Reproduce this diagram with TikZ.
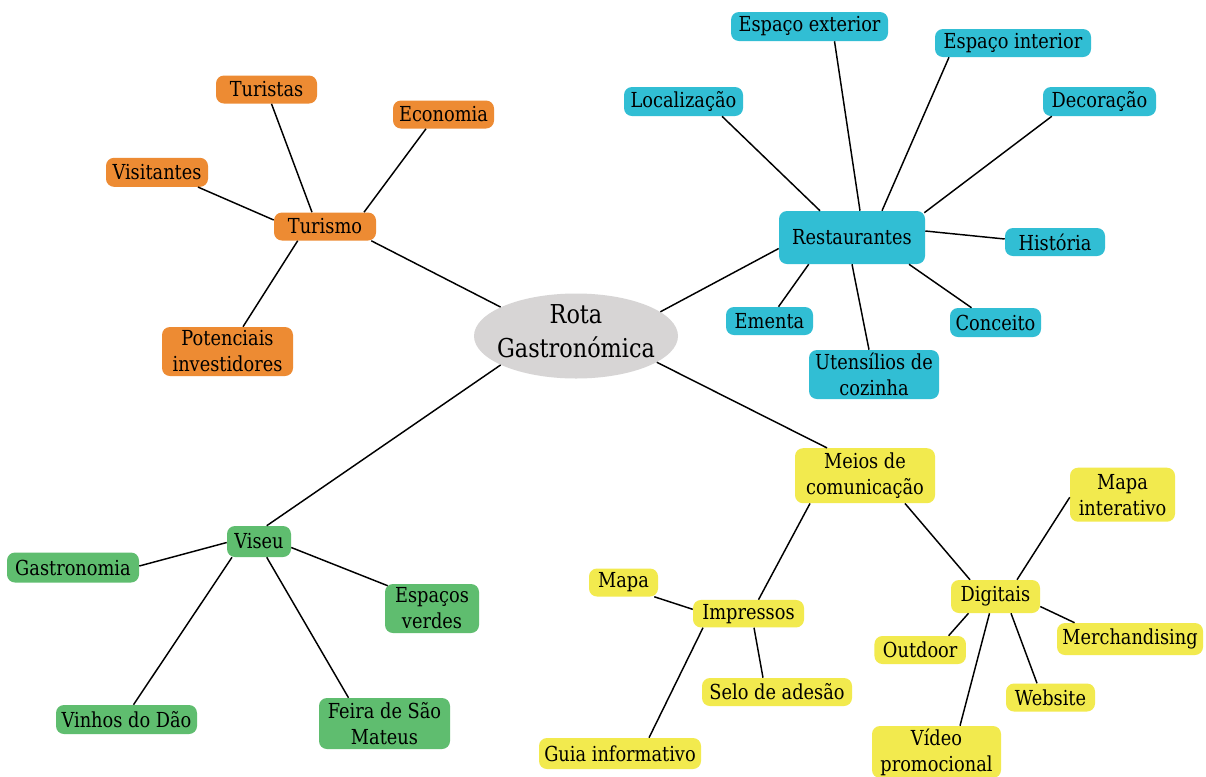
\documentclass[tikz,border=0pt]{standalone}
\usepackage{fontspec}
\setmainfont{DejaVu Serif}[FakeStretch=0.86]
\usetikzlibrary{calc,shapes.geometric}
\definecolor{corange}{RGB}{237,139,51}
\definecolor{cteal}{RGB}{49,190,212}
\definecolor{cyellow}{RGB}{242,234,78}
\definecolor{cgreen}{RGB}{95,189,111}
\definecolor{cgrey}{RGB}{215,213,213}
\tikzset{
  bx/.style={rectangle, rounded corners=6pt, inner sep=0pt, align=center,
    font=\fontsize{15.5pt}{19.5pt}\selectfont},
  orangebox/.style={bx, fill=corange},
  tealbox/.style={bx, fill=cteal},
  yellowbox/.style={bx, fill=cyellow},
  greenbox/.style={bx, fill=cgreen},
  link/.style={draw=black, line width=1.1pt},
  sz/.style 2 args={minimum width=#1*0.75pt, minimum height=#2*0.75pt},
}
\begin{document}
\begin{tikzpicture}[x=0.75pt,y=-0.75pt]
\useasboundingbox (0,0) rectangle (1206,776);
\clip (0,0) rectangle (1206,776);
\fill[white] (0,0) rectangle (1206,776);
% centre
\node[ellipse, fill=cgrey, inner sep=0pt, sz={204}{85}] (c) at (576,336) {};
\node[align=center, inner sep=0pt, font=\fontsize{19.5pt}{25.5pt}\selectfont] (ct) at (576,331) {Rota\\Gastronómica};
% Turismo
\node[orangebox, sz={101}{28}] (tur) at (266.5,89.5) {Turistas};
\node[orangebox, sz={101}{28}] (eco) at (443.5,114.5) {Economia};
\node[orangebox, sz={102}{29}] (vis) at (157,172.3) {Visitantes};
\node[orangebox, sz={102}{28}] (tsm) at (325,226.5) {Turismo};
\node[orangebox, sz={131}{49}] (pot) at (227.5,351.5) {Potenciais\\investidores};
% Restaurantes
\node[tealbox, sz={157}{29}] (ext) at (809.5,26.5) {Espaço exterior};
\node[tealbox, sz={156}{28}] (int) at (1013,43) {Espaço interior};
\node[tealbox, sz={119}{29}] (loc) at (683.5,101.5) {Localização};
\node[tealbox, sz={113}{29}] (dec) at (1099.5,101.5) {Decoração};
\node[tealbox, sz={146}{53}] (rest) at (852,237.5) {Restaurantes};
\node[tealbox, sz={100}{28}] (his) at (1055,242) {História};
\node[tealbox, sz={87}{28}] (eme) at (769.5,321) {Ementa};
\node[tealbox, sz={91}{29}] (con) at (995.5,322.5) {Conceito};
\node[tealbox, sz={130}{49}] (ute) at (874,374.5) {Utensílios de\\cozinha};
% Viseu
\node[greenbox, sz={64}{31}] (vse) at (259,541.5) {Viseu};
\node[greenbox, sz={132}{30}] (gas) at (73,567.5) {Gastronomia};
\node[greenbox, sz={94}{49}] (esv) at (432,608.5) {Espaços\\verdes};
\node[greenbox, sz={141}{29}] (vin) at (126.5,719.5) {Vinhos do Dão};
\node[greenbox, sz={131}{51}] (fei) at (384.5,723.5) {Feira de São\\Mateus};
% Meios de comunicacao
\node[yellowbox, sz={140}{55}] (mei) at (865,475.7) {Meios de\\comunicação};
\node[yellowbox, sz={105}{54}] (mpi) at (1122.5,494.7) {Mapa\\interativo};
\node[yellowbox, sz={69}{28}] (map) at (623.5,582.5) {Mapa};
\node[yellowbox, sz={111}{27.5}] (imp) at (748.5,613.7) {Impressos};
\node[yellowbox, sz={89}{33}] (dig) at (995.5,596.5) {Digitais};
\node[yellowbox, sz={91.5}{28}] (out) at (920.2,650) {Outdoor};
\node[yellowbox, sz={146}{32}] (mer) at (1130,639) {Merchandising};
\node[yellowbox, sz={150}{28}] (sel) at (777,692) {Selo de adesão};
\node[yellowbox, sz={89}{28}] (web) at (1050.5,697.5) {Website};
\node[yellowbox, sz={162}{31}] (gui) at (620,753.5) {Guia informativo};
\node[yellowbox, sz={129}{52}] (vid) at (936.5,752) {Vídeo\\promocional};
% connectors
\draw[link] ($(tsm.south east)+(-5,0)$) -- (c.159);
\draw[link] ($(tur.south)+(5,0)$) -- ($(tsm.north)+(-13,0)$);
\draw[link] ($(eco.south)+(-17.5,0)$) -- ($(tsm.north)+(39,0)$);
\draw[link] ($(vis.south)+(41,0)$) -- ($(tsm.west)+(0,-6.5)$);
\draw[link] ($(tsm.south)+(-27.3,0)$) -- ($(pot.north)+(15.5,0)$);
\draw[link] (c.16) -- ($(rest.west)+(0,11)$);
\draw[link] ($(loc.south)+(38.5,0)$) -- ($(rest.north)+(-32,0)$);
\draw[link] ($(ext.south)+(25,0)$) -- ($(rest.north)+(8,0)$);
\draw[link] ($(int.south)+(-64,0)$) -- ($(rest.north)+(30,0)$);
\draw[link] ($(dec.south)+(-47.7,0)$) -- ($(rest.north east)+(-1,2)$);
\draw[link] ($(rest.east)+(0,-6.5)$) -- ($(his.west)+(0,-3)$);
\draw[link] ($(rest.south)+(-43.3,0)$) -- ($(eme.north)+(9,0)$);
\draw[link] (rest.south) -- ($(ute.north)+(-5,0)$);
\draw[link] ($(rest.south)+(57,0)$) -- ($(con.north)+(-24,0)$);
\draw[link] (c.-18) -- ($(mei.north)+(-38,0)$);
\draw[link] (c.201) -- ($(vse.north)+(7.7,0)$);
\draw[link] ($(gas.east)+(0,-1.5)$) -- ($(vse.west)+(0,1)$);
\draw[link] ($(vse.east)+(0,6)$) -- ($(esv.north west)+(3,2)$);
\draw[link] ($(vse.south)+(-27,0)$) -- ($(vin.north)+(7,0)$);
\draw[link] ($(vse.south)+(7.7,0)$) -- ($(fei.north)+(-36,0)$);
\draw[link] ($(mei.south)+(-55,0)$) -- ($(imp.north)+(10,0)$);
\draw[link] ($(mei.south)+(40,0)$) -- ($(dig.north)+(-25.5,0)$);
\draw[link] ($(map.south east)+(-4,0)$) -- ($(imp.west)+(0,-4.4)$);
\draw[link] ($(imp.south)+(-45.5,0)$) -- ($(gui.north)+(29,0)$);
\draw[link] ($(imp.south)+(5.5,0)$) -- ($(sel.north)+(-14,0)$);
\draw[link] ($(dig.north)+(21.5,0)$) -- ($(mpi.west)+(0,2.6)$);
\draw[link] ($(dig.south)+(-27,0)$) -- ($(out.north)+(28.4,0)$);
\draw[link] ($(dig.east)+(0,10)$) -- ($(mer.north)+(-55.4,0)$);
\draw[link] ($(dig.south)+(15.5,0)$) -- ($(web.north)+(-13.5,0)$);
\draw[link] ($(dig.south)+(-6,0)$) -- ($(vid.north)+(23.5,0)$);
\end{tikzpicture}
\end{document}
